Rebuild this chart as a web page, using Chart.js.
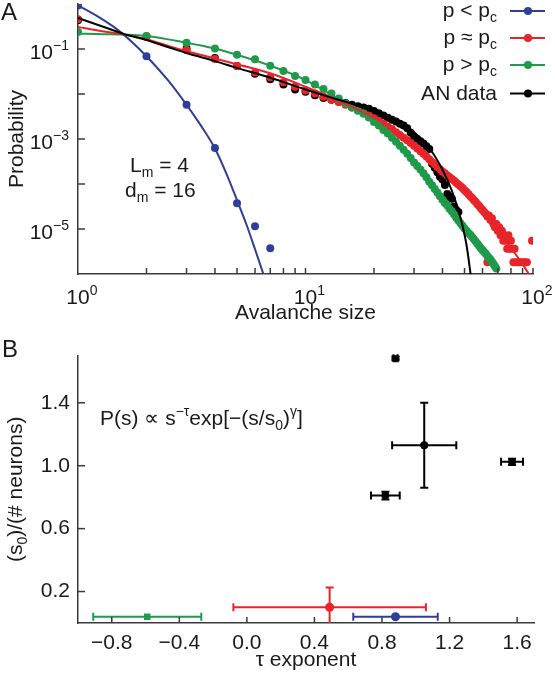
<!DOCTYPE html>
<html><head><meta charset="utf-8">
<script src="https://cdn.jsdelivr.net/npm/chart.js@4.4.1/dist/chart.umd.min.js"></script>
<style>
html,body{margin:0;padding:0;background:#fff;overflow:hidden}
canvas{position:absolute;left:0}
#ca{top:0}
#cb{top:335px}
</style></head><body>
<canvas id="ca" width="555" height="335"></canvas>
<canvas id="cb" width="555" height="342"></canvas>
<script>
const FONT = '"Liberation Sans", Arial, Helvetica, sans-serif';
const TXT = '#1a1a1a';
const AXC = '#3a3a3a';
const BLUE = '#2e3f98', RED = '#e8242b', GREEN = '#1f9a4a', BLACK = '#000000';

// ================= Panel A data (log10 of probability) =================
const sizesBlue = [1,2,3,4,5,6,7];
const logProbBlue = [-0.035,-1.16,-2.24,-3.2,-4.43,-4.94,-5.43];
const fitSizesBlue = [1,1.25,1.5,1.75,2,2.5,3,3.5,4,4.5,5,5.5,6,6.6];
const fitLogBlue = [-0.03,-0.31,-0.58,-0.87,-1.16,-1.71,-2.24,-2.73,-3.21,-3.78,-4.36,-4.90,-5.45,-6.07];

const sizesGreen = [1,2,3,4,5,6,7,8,9,10,11,12,13,14,15,16,17,18,19,20,21,22,23,24,25,26,27,28,29,30,31,32,33,34,35,36,37,38,39,40,41,42,43,44,45,46,47,48,49,50,51,52,53,54,55,56,57,58,59,60,61,62,63,64,65,66,67,68,69];
const logProbGreen = [-0.62,-0.71,-0.86,-0.99,-1.13,-1.23,-1.37,-1.49,-1.60,-1.69,
 -1.79,-1.89,-1.99,-2.10,-2.21,-2.30,-2.37,-2.44,-2.52,-2.62,
 -2.70,-2.80,-2.88,-2.97,-3.06,-3.15,-3.24,-3.33,-3.42,-3.52,
 -3.60,-3.68,-3.76,-3.85,-3.95,-4.03,-4.11,-4.19,-4.27,-4.35,
 -4.42,-4.48,-4.55,-4.61,-4.68,-4.75,-4.81,-4.87,-4.93,-4.99,
 -5.04,-5.09,-5.13,-5.18,-5.23,-5.28,-5.33,-5.38,-5.43,-5.47,
 -5.51,-5.55,-5.60,-5.64,-5.68,-5.73,-5.78,-5.83,-5.88];
const fitSizesGreen = [1,1.3,1.6,2,3,4,5,7,10,15,20,25,30,40,50,60,70];
const fitLogGreen = [-0.66,-0.67,-0.68,-0.71,-0.86,-0.99,-1.13,-1.37,-1.69,-2.21,-2.62,-3.06,-3.52,-4.35,-4.99,-5.47,-5.93];

const sizesRed = [1,2,3,4,5,6,7,8,9,10,11,12,13,14,15,16,17,18,19,20,21,22,23,24,25,26,27,28,29,30,31,32,33,34,35,36,37,38,39,40,41,42,43,44,45,46,47,48,49,50,51,52,53,54,55,56,57,58,59,60,
 61,62,63,63,64,65,66,67,68,69,70,71,72,73,74,75,76,77,78,79,80,81,82,83,84,86,88,90,92,94,99];
const logProbRed = [-0.34,-0.72,-1.02,-1.22,-1.38,-1.52,-1.63,-1.74,-1.84,-1.92,
 -1.99,-2.06,-2.12,-2.18,-2.24,-2.30,-2.36,-2.42,-2.48,-2.54,
 -2.60,-2.66,-2.72,-2.78,-2.85,-2.91,-2.97,-3.03,-3.09,-3.15,
 -3.21,-3.27,-3.33,-3.39,-3.45,-3.51,-3.56,-3.62,-3.67,-3.72,
 -3.76,-3.81,-3.85,-3.89,-3.93,-3.97,-4.01,-4.05,-4.09,-4.14,
 -4.18,-4.22,-4.27,-4.31,-4.36,-4.40,-4.45,-4.49,-4.54,-4.58,
 -4.62,-4.66,-4.72,-5.74,-4.70,-4.80,-4.76,-4.89,-4.96,-4.89,-5.04,-4.96,-5.14,-5.04,-5.26,-5.14,-5.26,-5.44,-5.14,-5.44,-5.26,-5.44,-5.74,-5.44,-5.74,-5.74,-5.74,-5.74,-5.74,-5.74,-5.26];
const fitSizesRed = [1,1.3,1.6,2,2.5,3,4,5,7,10,15,20,25,30,40,50,60,70,80,90,98];
const fitLogRed = [-0.51,-0.61,-0.68,-0.78,-0.93,-1.05,-1.21,-1.34,-1.54,-1.84,-2.22,-2.53,-2.83,-3.12,-3.68,-4.17,-4.62,-5.03,-5.42,-5.78,-6.08];

const sizesAN = [1,2,3,4,5,6,7,8,9,10,11,12,13,14,15,16,17,18,19,20,21,22,23,24,25,26,27,28,29,30,31,32,33,34,35,36,37,38,39,40,41,42,43,44,45,46,47];
const logProbAN = [-0.36,-0.72,-0.99,-1.20,-1.38,-1.55,-1.67,-1.79,-1.90,-1.95,
 -2.03,-2.09,-2.13,-2.17,-2.20,-2.24,-2.27,-2.30,-2.33,-2.38,
 -2.43,-2.48,-2.53,-2.57,-2.61,-2.66,-2.70,-2.76,-2.86,-2.95,
 -3.00,-3.05,-3.10,-3.16,-3.22,-3.55,-3.64,-3.74,-3.84,-3.90,
 -4.02,-4.22,-4.28,-4.33,-4.50,-4.58,-4.62];
const fitSizesAN = [1,1.3,1.6,2,2.5,3,4,5,7,10,13,16,20,25,30,35,40,44,48,51,53.5];
const fitLogAN = [-0.31,-0.51,-0.67,-0.80,-0.96,-1.09,-1.27,-1.42,-1.64,-1.90,-2.08,-2.22,-2.40,-2.60,-2.85,-3.20,-3.68,-4.15,-4.75,-5.35,-6.10];

const xTicksA = [1,2,3,4,5,6,7,8,9,10,20,30,40,50,60,70,80,90,100];
const xTickExpA = [0,1,2];
const yTicksA = [-1,-2,-3,-4,-5];
const yTickExpA = [-1,-3,-5];

const legendLabels = [['p < p','c'],['p ≈ p','c'],['p > p','c'],['AN data','']];
const legendColors = [BLUE, RED, GREEN, BLACK];

// ================= Panel B data =================
const tauBlue = [0.88], s0Blue = [0.04], tauErrBlue = [0.25], s0ErrBlue = [0];
const tauRed = [0.49], s0Red = [0.10], tauErrRed = [0.57], s0ErrRed = [0.125];
const tauGreen = [-0.59], s0Green = [0.04], tauErrGreen = [0.32], s0ErrGreen = [0];
const tauAN = [0.88, 1.05, 1.57, 0.82];
const s0AN = [1.683, 1.13, 1.025, 0.81];
const tauErrAN = [0.012, 0.19, 0.065, 0.085];
const s0ErrAN = [0.012, 0.27, 0.02, 0.025];
const xTicksB = [-0.8,-0.4,0,0.4,0.8,1.2,1.6];
const yTicksB = [0.2,0.6,1.0,1.4];

// ================= helpers =================
const pts = (xs, ls) => xs.map((x,i)=>({x, y: Math.pow(10, ls[i])}));
const ptsLin = (xs, ys) => xs.map((x,i)=>({x, y: ys[i]}));

function drawRich(ctx, segs, x, y, size, align){
  const small = Math.round(size*0.68);
  const m = []; let w = 0;
  for (const s of segs){
    const fs = s[1] ? small : size;
    ctx.font = fs + 'px ' + FONT;
    const ww = ctx.measureText(s[0]).width;
    m.push([s[0], s[1], fs, ww]); w += ww;
  }
  let cx = x;
  if (align === 'right') cx = x - w;
  else if (align === 'center') cx = x - w/2;
  else if (align === 'firstcenter') cx = x - m[0][3]/2;
  for (const [t,k,fs,ww] of m){
    ctx.font = fs + 'px ' + FONT;
    const dy = k === 'sup' ? -Math.round(size*0.43) : (k === 'sub' ? Math.round(size*0.26) : 0);
    ctx.fillText(t, cx, y + dy);
    cx += ww;
  }
  return w;
}

const fitLine = (data, color, order) => ({data, showLine:true, borderColor:color, borderWidth:2, pointRadius:0, cubicInterpolationMode:'monotone', fill:false, order});
const dots = (data, color, order) => ({data, showLine:false, pointRadius:4, pointBackgroundColor:color, pointBorderWidth:0, pointHoverRadius:0, order});

// ================= Panel A =================
const panelA = {
  id: 'panelA',
  afterDraw(chart){
    const ctx = chart.ctx, a = chart.chartArea, xs = chart.scales.x, ys = chart.scales.y;
    ctx.save();
    ctx.strokeStyle = AXC; ctx.lineWidth = 1.5;
    for (const t of xs.ticks){
      const px = xs.getPixelForValue(t.value);
      if (px <= a.left + 1) continue;
      ctx.beginPath(); ctx.moveTo(px, a.bottom); ctx.lineTo(px, a.bottom - 6); ctx.stroke();
    }
    for (const t of ys.ticks){
      const py = ys.getPixelForValue(t.value);
      if (py >= a.bottom - 1 || py <= a.top + 1) continue;
      ctx.beginPath(); ctx.moveTo(a.left, py); ctx.lineTo(a.left + 7, py); ctx.stroke();
    }
    ctx.fillStyle = TXT; ctx.textBaseline = 'alphabetic';
    for (const e of xTickExpA){
      const px = xs.getPixelForValue(Math.pow(10, e));
      drawRich(ctx, [['10',''],[String(e),'sup']], px, a.bottom + 30, 21, 'firstcenter');
    }
    for (const e of yTickExpA){
      const py = ys.getPixelForValue(Math.pow(10, e));
      drawRich(ctx, [['10',''],['\u2212' + Math.abs(e),'sup']], a.left - 9, py + 9.5, 21, 'right');
    }
    ctx.font = '24px ' + FONT; ctx.fillText('A', 1, 20);
    drawRich(ctx, [['L',''],['m','sub'],[' = 4','']], 130, 172, 21, 'left');
    drawRich(ctx, [['d',''],['m','sub'],[' = 16','']], 125, 197, 21, 'left');
    const rows = [11, 38, 65, 93.5];
    legendLabels.forEach((lab, i) => {
      const y = rows[i];
      ctx.fillStyle = TXT;
      const segs = lab[1] ? [[lab[0],''],[lab[1],'sub']] : [[lab[0],'']];
      drawRich(ctx, segs, 497, y + 6, 21, 'right');
      ctx.strokeStyle = legendColors[i]; ctx.lineWidth = 2;
      ctx.beginPath(); ctx.moveTo(510, y); ctx.lineTo(545, y); ctx.stroke();
      ctx.fillStyle = legendColors[i];
      ctx.beginPath(); ctx.arc(528, y, 4, 0, Math.PI*2); ctx.fill();
    });
    ctx.restore();
  }
};

new Chart(document.getElementById('ca'), {
  type: 'scatter',
  data: { datasets: [
    fitLine(pts(fitSizesAN, fitLogAN), BLACK, 0),
    fitLine(pts(fitSizesBlue, fitLogBlue), BLUE, 1),
    dots(pts(sizesBlue, logProbBlue), BLUE, 2),
    fitLine(pts(fitSizesRed, fitLogRed), RED, 3),
    fitLine(pts(fitSizesGreen, fitLogGreen), GREEN, 4),
    dots(pts(sizesGreen, logProbGreen), GREEN, 5),
    dots(pts(sizesRed, logProbRed), RED, 6),
    dots(pts(sizesAN, logProbAN), BLACK, 7)
  ]},
  options: {
    responsive: false, animation: false, events: [],
    layout: { padding: { top: 2, right: 22, bottom: 0, left: 0 } },
    plugins: { legend: { display: false }, tooltip: { enabled: false } },
    scales: {
      x: {
        type: 'logarithmic', min: 1, max: 100,
        afterBuildTicks: s => { s.ticks = xTicksA.map(v => ({value: v})); },
        afterFit: s => { s.height = 61; },
        grid: { display: false, drawTicks: false },
        border: { display: true, color: AXC, width: 1.5 },
        ticks: { display: false },
        title: { display: true, text: 'Avalanche size', color: TXT, font: { size: 21, family: FONT }, padding: { top: 0, bottom: 9 } }
      },
      y: {
        type: 'logarithmic', min: 1e-6, max: 1,
        afterBuildTicks: s => { s.ticks = yTicksA.map(e => ({value: Math.pow(10, e)})); },
        afterFit: s => { s.width = 78; },
        grid: { display: false, drawTicks: false },
        border: { display: true, color: AXC, width: 1.5 },
        ticks: { display: false },
        title: { display: true, text: 'Probability', color: TXT, font: { size: 21, family: FONT }, padding: { top: 5, bottom: 0 } }
      }
    }
  },
  plugins: [panelA]
});

// ================= Panel B =================
const groupsB = [
  { x: tauGreen, y: s0Green, ex: tauErrGreen, ey: s0ErrGreen, color: GREEN },
  { x: tauRed, y: s0Red, ex: tauErrRed, ey: s0ErrRed, color: RED },
  { x: tauBlue, y: s0Blue, ex: tauErrBlue, ey: s0ErrBlue, color: BLUE },
  { x: tauAN, y: s0AN, ex: tauErrAN, ey: s0ErrAN, color: BLACK }
];

const panelB = {
  id: 'panelB',
  beforeDatasetsDraw(chart){
    const ctx = chart.ctx, a = chart.chartArea, xs = chart.scales.x, ys = chart.scales.y;
    ctx.save();
    ctx.beginPath(); ctx.rect(a.left, a.top - 10, a.right - a.left + 10, a.bottom - a.top + 10); ctx.clip();
    const seg = (x1,y1,x2,y2) => { ctx.beginPath(); ctx.moveTo(x1,y1); ctx.lineTo(x2,y2); ctx.stroke(); };
    for (const g of groupsB){
      ctx.strokeStyle = g.color; ctx.lineWidth = 2;
      g.x.forEach((xv, i) => {
        const yv = g.y[i], ex = g.ex[i], ey = g.ey[i];
        const px = xs.getPixelForValue(xv), py = ys.getPixelForValue(yv);
        if (ex > 0){
          const l = xs.getPixelForValue(xv - ex), r = xs.getPixelForValue(xv + ex);
          seg(l, py, r, py); seg(l, py - 4, l, py + 4); seg(r, py - 4, r, py + 4);
        }
        if (ey > 0){
          const t = ys.getPixelForValue(yv + ey), b = ys.getPixelForValue(yv - ey);
          seg(px, t, px, b); seg(px - 4, t, px + 4, t); seg(px - 4, b, px + 4, b);
        }
      });
    }
    ctx.restore();
  },
  afterDraw(chart){
    const ctx = chart.ctx, a = chart.chartArea, xs = chart.scales.x, ys = chart.scales.y;
    ctx.save();
    ctx.strokeStyle = AXC; ctx.lineWidth = 1.5;
    for (const t of xs.ticks){
      const px = xs.getPixelForValue(t.value);
      ctx.beginPath(); ctx.moveTo(px, a.bottom); ctx.lineTo(px, a.bottom - 6); ctx.stroke();
    }
    for (const t of ys.ticks){
      const py = ys.getPixelForValue(t.value);
      ctx.beginPath(); ctx.moveTo(a.left, py); ctx.lineTo(a.left + 7, py); ctx.stroke();
    }
    ctx.fillStyle = TXT; ctx.textBaseline = 'alphabetic';
    ctx.font = '24px ' + FONT; ctx.fillText('B', 2, 22);
    drawRich(ctx, [['P(s) \u221D s',''],['\u2212\u03C4','sup'],['exp[\u2212(s/s',''],['0','sub'],[')',''],['\u03B3','sup'],[']','']], 100, 90, 21, 'left');
    ctx.translate(22, (a.top + a.bottom)/2);
    ctx.rotate(-Math.PI/2);
    drawRich(ctx, [['(s',''],['0','sub'],[')/(# neurons)','']], 0, 0, 21, 'center');
    ctx.restore();
  }
};

new Chart(document.getElementById('cb'), {
  type: 'scatter',
  data: { datasets: [
    { data: ptsLin(tauGreen, s0Green), pointStyle: 'rect', pointRadius: 4.5, pointBackgroundColor: GREEN, pointBorderWidth: 0, pointHoverRadius: 0 },
    { data: ptsLin(tauRed, s0Red), pointRadius: 4.5, pointBackgroundColor: RED, pointBorderWidth: 0, pointHoverRadius: 0 },
    { data: ptsLin(tauBlue, s0Blue), pointRadius: 4.5, pointBackgroundColor: BLUE, pointBorderWidth: 0, pointHoverRadius: 0 },
    { data: ptsLin(tauAN, s0AN), pointRadius: 4, pointBackgroundColor: BLACK, pointBorderWidth: 0, pointHoverRadius: 0 }
  ]},
  options: {
    responsive: false, animation: false, events: [],
    layout: { padding: { top: 15, right: 21, bottom: 0, left: 0 } },
    plugins: { legend: { display: false }, tooltip: { enabled: false } },
    scales: {
      x: {
        type: 'linear', min: -1.0, max: 1.7,
        afterBuildTicks: s => { s.ticks = xTicksB.map(v => ({value: v})); },
        afterFit: s => { s.height = 54; },
        grid: { display: false, drawTicks: false },
        border: { display: true, color: AXC, width: 1.5 },
        ticks: { color: TXT, font: { size: 21, family: FONT }, padding: 8, maxRotation: 0,
          callback: v => (v < 0 ? '\u2212' : '') + Math.abs(v).toFixed(1) },
        title: { display: true, text: '\u03C4 exponent', color: TXT, font: { size: 21, family: FONT }, padding: { top: 0, bottom: 4 } }
      },
      y: {
        type: 'linear', min: 0, max: 1.70,
        afterBuildTicks: s => { s.ticks = yTicksB.map(v => ({value: v})); },
        afterFit: s => { s.width = 78; },
        grid: { display: false, drawTicks: false },
        border: { display: true, color: AXC, width: 1.5 },
        ticks: { color: TXT, font: { size: 21, family: FONT }, padding: 8,
          callback: v => v.toFixed(1) }
      }
    }
  },
  plugins: [panelB]
});
</script>
</body></html>
